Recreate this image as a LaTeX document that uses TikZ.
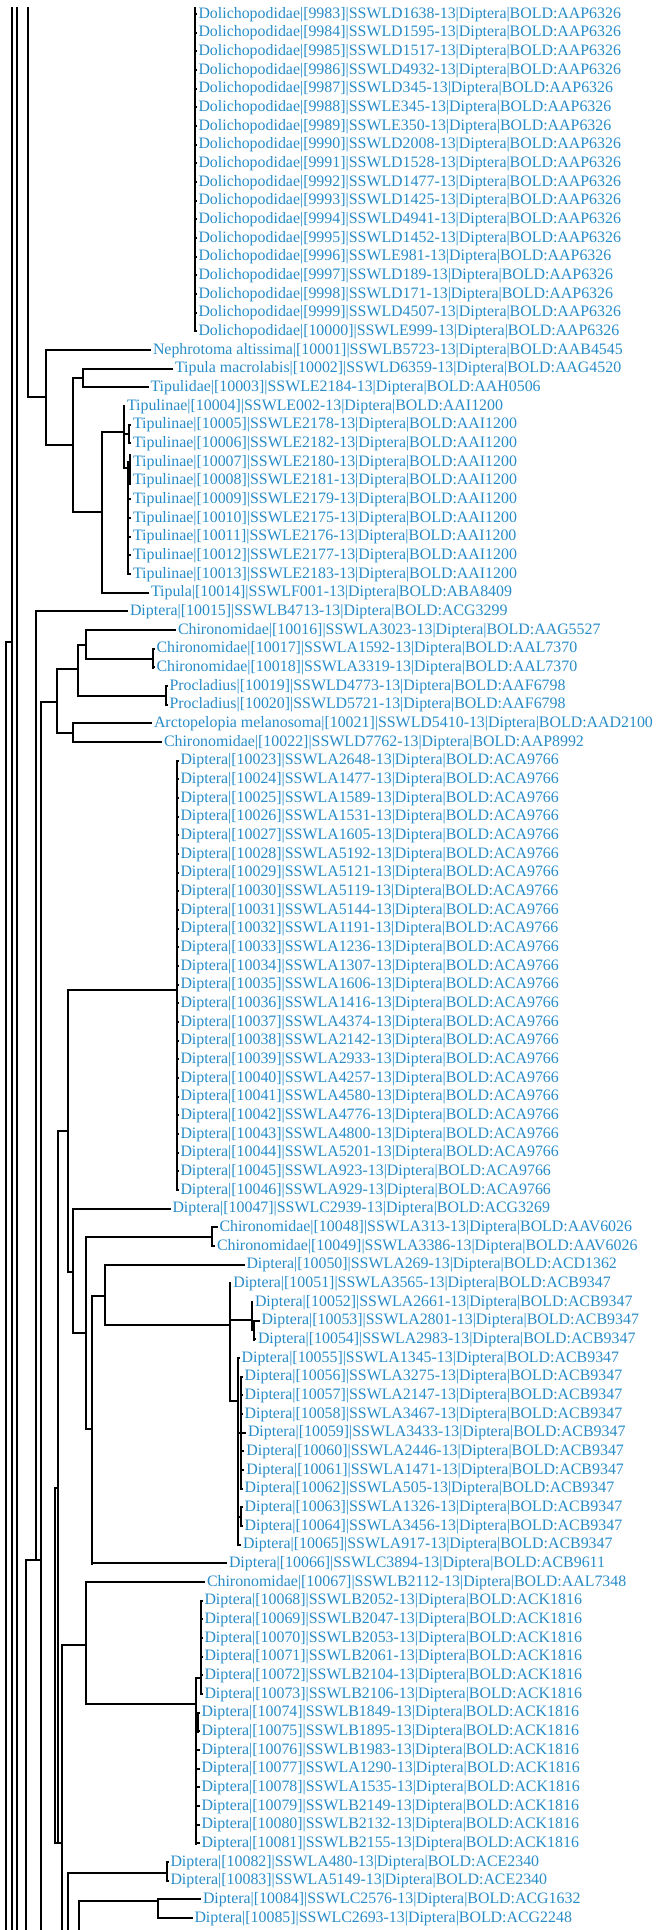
\documentclass[tikz,border=0pt]{standalone}
\usepackage{fontspec}
\setmainfont{Liberation Serif}
\definecolor{leafblue}{RGB}{40,140,200}
\tikzset{
  br/.style={line width=2pt, line cap=rect, black},
  leaf/.style={anchor=west, inner xsep=2.8pt, inner ysep=0pt, text height=12pt, text depth=3.5pt,
    text=leafblue, font=\fontsize{15.9}{18}\selectfont},
}
\newcommand\lf[5]{%
  \pgfmathsetmacro\yy{14+18.667*#2}%
  \node[leaf] (#1) at (#4,\yy) {#5};
  \draw[br] (#3,\yy) -- (#1.west);}
\begin{document}
\begin{tikzpicture}[x=1pt,y=-1pt]
\useasboundingbox (0,0) rectangle (659,1930);
% ---- outer lines
\draw[br] (12,8) -- (12,1930);
\draw[br] (17,8) -- (17,1930);
\draw[br] (28,8) -- (28,397) -- (46,397);
\draw[br] (6,642) -- (6,1930);
\draw[br] (6,642) -- (12,642);
% ---- Dolichopodidae
\draw[br] (195,8) -- (195,331.3);
\foreach \c [count=\i from 0] in {SSWLD1638,SSWLD1595,SSWLD1517,SSWLD4932,SSWLD345,SSWLE345,SSWLE350,SSWLD2008,SSWLD1528,SSWLD1477,SSWLD1425,SSWLD4941,SSWLD1452,SSWLE981,SSWLD189,SSWLD171,SSWLD4507,SSWLE999}{
  \pgfmathtruncatemacro\n{9983+\i}
  \lf{L\i}{\i}{195}{195.5}{Dolichopodidae|[\n]|\c-13|Diptera|BOLD:AAP6326}
}
% ---- Tipulidae group
\draw[br] (46,350) -- (46,445) -- (73,445);
\draw[br] (73,378) -- (73,512);
\draw[br] (73,378) -- (83,378);
\draw[br] (73,512) -- (102,512);
\draw[br] (83,368.7) -- (83,387.3);
\draw[br] (102,432) -- (102,592.7);
\draw[br] (102,432) -- (123.5,432);
\draw[br] (123.5,406) -- (123.5,468);
\draw[br] (123.5,434) -- (129,434);
\draw[br] (123.5,468) -- (128,468);
\draw[br] (129,424.7) -- (129,443.3);
\draw[br] (128,462) -- (128,574);
\draw[br] (129.5,455) -- (129.5,484);
\lf{L18}{18}{46}{150}{Nephrotoma altissima|[10001]|SSWLB5723-13|Diptera|BOLD:AAB4545}
\lf{L19}{19}{83}{172}{Tipula macrolabis|[10002]|SSWLD6359-13|Diptera|BOLD:AAG4520}
\lf{L20}{20}{83}{147.5}{Tipulidae|[10003]|SSWLE2184-13|Diptera|BOLD:AAH0506}
\lf{L21}{21}{123.5}{124}{Tipulinae|[10004]|SSWLE002-13|Diptera|BOLD:AAI1200}
\foreach \c [count=\i from 22] in {SSWLE2178,SSWLE2182}{
  \pgfmathtruncatemacro\n{9983+\i}
  \lf{L\i}{\i}{129}{130}{Tipulinae|[\n]|\c-13|Diptera|BOLD:AAI1200}
}
\foreach \c [count=\i from 24] in {SSWLE2180,SSWLE2181,SSWLE2179,SSWLE2175,SSWLE2176,SSWLE2177,SSWLE2183}{
  \pgfmathtruncatemacro\n{9983+\i}
  \lf{L\i}{\i}{128}{130}{Tipulinae|[\n]|\c-13|Diptera|BOLD:AAI1200}
}
\lf{L31}{31}{102}{148}{Tipula|[10014]|SSWLF001-13|Diptera|BOLD:ABA8409}
% ---- Chironomidae group
\draw[br] (36,611.3) -- (36,1560);
\draw[br] (26,1560) -- (26,1930);
\draw[br] (26,1560) -- (41,1560);
\draw[br] (41,702) -- (41,1930);
\draw[br] (41,702) -- (57,702);
\draw[br] (57,669) -- (57,733);
\draw[br] (57,669) -- (78,669);
\draw[br] (57,733) -- (73,733);
\draw[br] (78,645) -- (78,696);
\draw[br] (78,645) -- (86,645);
\draw[br] (78,696) -- (166,696);
\draw[br] (86,630) -- (86,659);
\draw[br] (86,659) -- (153,659);
\draw[br] (153,648.8) -- (153,667.5);
\draw[br] (166,686.2) -- (166,704.9);
\draw[br] (73,723.5) -- (73,742.2);
\lf{L32}{32}{36}{127}{Diptera|[10015]|SSWLB4713-13|Diptera|BOLD:ACG3299}
\lf{L33}{33}{86}{175}{Chironomidae|[10016]|SSWLA3023-13|Diptera|BOLD:AAG5527}
\lf{L34}{34}{153}{153.5}{Chironomidae|[10017]|SSWLA1592-13|Diptera|BOLD:AAL7370}
\lf{L35}{35}{153}{153.5}{Chironomidae|[10018]|SSWLA3319-13|Diptera|BOLD:AAL7370}
\lf{L36}{36}{166}{166.5}{Procladius|[10019]|SSWLD4773-13|Diptera|BOLD:AAF6798}
\lf{L37}{37}{166}{166.5}{Procladius|[10020]|SSWLD5721-13|Diptera|BOLD:AAF6798}
\lf{L38}{38}{73}{151}{Arctopelopia melanosoma|[10021]|SSWLD5410-13|Diptera|BOLD:AAD2100}
\lf{L39}{39}{73}{161}{Chironomidae|[10022]|SSWLD7762-13|Diptera|BOLD:AAP8992}
% ---- ACA9766
\draw[br] (177,760.8) -- (177,1190.2);
\draw[br] (68,990) -- (177,990);
\draw[br] (68,990) -- (68,1272) -- (73,1272);
\draw[br] (58,1131) -- (58,1843);
\draw[br] (58,1131) -- (68,1131);
\foreach \c [count=\i from 40] in {SSWLA2648,SSWLA1477,SSWLA1589,SSWLA1531,SSWLA1605,SSWLA5192,SSWLA5121,SSWLA5119,SSWLA5144,SSWLA1191,SSWLA1236,SSWLA1307,SSWLA1606,SSWLA1416,SSWLA4374,SSWLA2142,SSWLA2933,SSWLA4257,SSWLA4580,SSWLA4776,SSWLA4800,SSWLA5201,SSWLA923,SSWLA929}{
  \pgfmathtruncatemacro\n{9983+\i}
  \lf{L\i}{\i}{177}{177.5}{Diptera|[\n]|\c-13|Diptera|BOLD:ACA9766}
}
% ---- middle group
\draw[br] (73,1209) -- (73,1333) -- (86,1333);
\draw[br] (86,1237) -- (86,1429) -- (92,1429);
\draw[br] (86,1237) -- (212,1237);
\draw[br] (212,1227.5) -- (212,1246.2);
\draw[br] (92,1296) -- (92,1563.6);
\draw[br] (92,1296) -- (105,1296);
\draw[br] (105,1265) -- (105,1325) -- (230,1325);
\draw[br] (230,1283.6) -- (230,1401);
\draw[br] (230,1320) -- (251.7,1320);
\draw[br] (230,1401) -- (238.3,1401);
\draw[br] (251.7,1302.3) -- (251.7,1330) -- (254,1330);
\draw[br] (254,1321) -- (254,1339.6);
\draw[br] (238.3,1358.2) -- (238.3,1545);
\draw[br] (241.2,1376.9) -- (241.2,1488.7);
\draw[br] (238.3,1433) -- (241.2,1433);
\draw[br] (240.5,1507.4) -- (240.5,1526.1);
\draw[br] (238.3,1517) -- (240.5,1517);
\lf{L64}{64}{73}{169.5}{Diptera|[10047]|SSWLC2939-13|Diptera|BOLD:ACG3269}
\lf{L65}{65}{212}{216.5}{Chironomidae|[10048]|SSWLA313-13|Diptera|BOLD:AAV6026}
\lf{L66}{66}{212}{214}{Chironomidae|[10049]|SSWLA3386-13|Diptera|BOLD:AAV6026}
\lf{L67}{67}{105}{243.5}{Diptera|[10050]|SSWLA269-13|Diptera|BOLD:ACD1362}
\lf{L68}{68}{230}{230.3}{Diptera|[10051]|SSWLA3565-13|Diptera|BOLD:ACB9347}
\lf{L69}{69}{251.7}{252}{Diptera|[10052]|SSWLA2661-13|Diptera|BOLD:ACB9347}
\lf{L70}{70}{254}{258.5}{Diptera|[10053]|SSWLA2801-13|Diptera|BOLD:ACB9347}
\lf{L71}{71}{254}{255}{Diptera|[10054]|SSWLA2983-13|Diptera|BOLD:ACB9347}
\lf{L72}{72}{238.3}{238.6}{Diptera|[10055]|SSWLA1345-13|Diptera|BOLD:ACB9347}
\foreach \c/\e [count=\i from 73] in {SSWLA3275/241.7,SSWLA2147/241.7,SSWLA3467/241.7,SSWLA3433/245,SSWLA2446/243.4,SSWLA1471/243.4,SSWLA505/241.7}{
  \pgfmathtruncatemacro\n{9983+\i}
  \lf{L\i}{\i}{241.2}{\e}{Diptera|[\n]|\c-13|Diptera|BOLD:ACB9347}
}
\lf{L80}{80}{240.5}{241.7}{Diptera|[10063]|SSWLA1326-13|Diptera|BOLD:ACB9347}
\lf{L81}{81}{240.5}{241.7}{Diptera|[10064]|SSWLA3456-13|Diptera|BOLD:ACB9347}
\lf{L82}{82}{238.3}{240}{Diptera|[10065]|SSWLA917-13|Diptera|BOLD:ACB9347}
\lf{L83}{83}{92}{226}{Diptera|[10066]|SSWLC3894-13|Diptera|BOLD:ACB9611}
% ---- lower group
\draw[br] (55,1488) -- (55,1843) -- (62,1843);
\draw[br] (55,1488) -- (58,1488);
\draw[br] (62,1645) -- (62,1930);
\draw[br] (62,1645) -- (86,1645);
\draw[br] (86,1582.3) -- (86,1704) -- (196,1704);
\draw[br] (196,1678) -- (196,1843.7);
\draw[br] (196,1678) -- (201.3,1678);
\draw[br] (201.3,1601) -- (201.3,1694.3);
\draw[br] (198,1712.9) -- (198,1731.6);
\draw[br] (196,1722) -- (198,1722);
\lf{L84}{84}{86}{204}{Chironomidae|[10067]|SSWLB2112-13|Diptera|BOLD:AAL7348}
\foreach \c [count=\i from 85] in {SSWLB2052,SSWLB2047,SSWLB2053,SSWLB2061,SSWLB2104,SSWLB2106}{
  \pgfmathtruncatemacro\n{9983+\i}
  \lf{L\i}{\i}{201.3}{201.5}{Diptera|[\n]|\c-13|Diptera|BOLD:ACK1816}
}
\foreach \c [count=\i from 91] in {SSWLB1849,SSWLB1895,SSWLB1983,SSWLA1290,SSWLA1535,SSWLB2149,SSWLB2132,SSWLB2155}{
  \pgfmathtruncatemacro\n{9983+\i}
  \lf{L\i}{\i}{196}{198.5}{Diptera|[\n]|\c-13|Diptera|BOLD:ACK1816}
}
\draw[br] (68,1873) -- (68,1930);
\draw[br] (68,1873) -- (167,1873);
\draw[br] (167,1862) -- (167,1880.7);
\draw[br] (79,1901) -- (79,1930);
\draw[br] (79,1901) -- (158,1901);
\draw[br] (158,1899.7) -- (158,1918.3);
\lf{L99}{99}{167}{167.5}{Diptera|[10082]|SSWLA480-13|Diptera|BOLD:ACE2340}
\lf{L100}{100}{167}{167.5}{Diptera|[10083]|SSWLA5149-13|Diptera|BOLD:ACE2340}
\lf{L101}{101}{158}{200}{Diptera|[10084]|SSWLC2576-13|Diptera|BOLD:ACG1632}
\lf{L102}{102}{158}{191.5}{Diptera|[10085]|SSWLC2693-13|Diptera|BOLD:ACG2248}
\end{tikzpicture}
\end{document}
